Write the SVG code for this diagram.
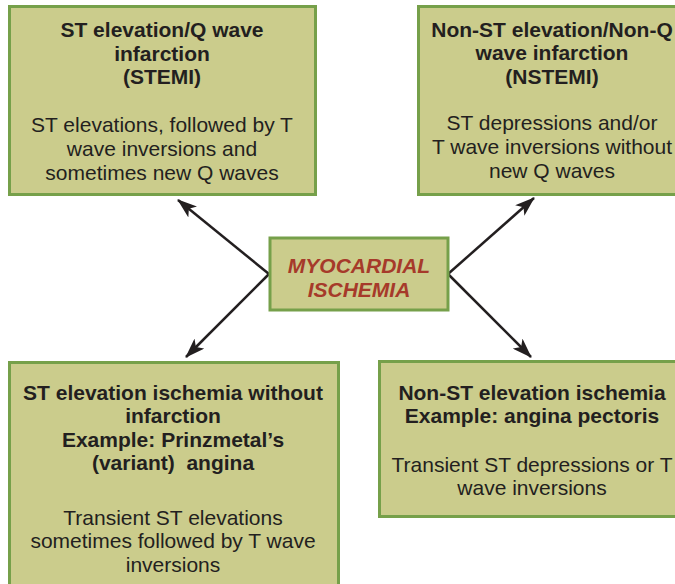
<svg xmlns="http://www.w3.org/2000/svg" width="675" height="584" viewBox="0 0 675 584">
<style>
.box{fill:#cbcc8c;stroke:#76a04a;stroke-width:3}
.t{font-family:"Liberation Sans",Arial,sans-serif;font-size:21px;fill:#231f20;text-anchor:middle}
.b{font-weight:bold}
.c{font-family:"Liberation Sans",Arial,sans-serif;font-size:21px;font-weight:bold;font-style:italic;fill:#a63a2a;text-anchor:middle}
.arr{stroke:#231f20;stroke-width:2.5;fill:none;marker-end:url(#ah)}
</style>
<defs>
<marker id="ah" viewBox="0 0 20 14" refX="19" refY="7" markerWidth="20" markerHeight="14" markerUnits="userSpaceOnUse" orient="auto">
<path d="M0,0 L20,7 L0,14 L5,7 Z" fill="#231f20"/>
</marker>
</defs>
<rect width="675" height="584" fill="#ffffff"/>
<g id="connectors">
<line class="arr" x1="269" y1="274" x2="178" y2="200"/>
<line class="arr" x1="269" y1="274" x2="186" y2="357"/>
<line class="arr" x1="448" y1="274" x2="534" y2="198"/>
<line class="arr" x1="448" y1="274" x2="531" y2="357"/>
</g>
<g id="stemi">
<rect class="box" x="9.5" y="6.5" width="306" height="188"/>
<text class="t b" x="162" y="37">ST elevation/Q wave</text>
<text class="t b" x="162" y="61">infarction</text>
<text class="t b" x="162" y="84">(STEMI)</text>
<text class="t" x="162" y="132">ST elevations, followed by T</text>
<text class="t" x="162" y="156">wave inversions and</text>
<text class="t" x="162" y="180">sometimes new Q waves</text>
</g>
<g id="nstemi">
<rect class="box" x="418.5" y="6.5" width="280" height="188"/>
<text class="t b" x="552" y="37">Non-ST elevation/Non-Q</text>
<text class="t b" x="552" y="60">wave infarction</text>
<text class="t b" x="552" y="84">(NSTEMI)</text>
<text class="t" x="552" y="130">ST depressions and/or</text>
<text class="t" x="552" y="154">T wave inversions without</text>
<text class="t" x="552" y="178">new Q waves</text>
</g>
<g id="ischemia">
<rect class="box" x="270" y="238" width="178" height="72"/>
<text class="c" x="359" y="273">MYOCARDIAL</text>
<text class="c" x="359" y="297">ISCHEMIA</text>
</g>
<g id="st-elevation-ischemia">
<rect class="box" x="9.5" y="362.5" width="329" height="240"/>
<text class="t b" x="173" y="400">ST elevation ischemia without</text>
<text class="t b" x="173" y="423">infarction</text>
<text class="t b" x="173" y="447">Example: Prinzmetal’s</text>
<text class="t b" x="173" y="470" xml:space="preserve">(variant)  angina</text>
<text class="t" x="173" y="525">Transient ST elevations</text>
<text class="t" x="173" y="548">sometimes followed by T wave</text>
<text class="t" x="173" y="572">inversions</text>
</g>
<g id="non-st-elevation-ischemia">
<rect class="box" x="379.5" y="361.5" width="310" height="155"/>
<text class="t b" x="532" y="400">Non-ST elevation ischemia</text>
<text class="t b" x="532" y="423">Example: angina pectoris</text>
<text class="t" x="532" y="472">Transient ST depressions or T</text>
<text class="t" x="532" y="495">wave inversions</text>
</g>
</svg>
